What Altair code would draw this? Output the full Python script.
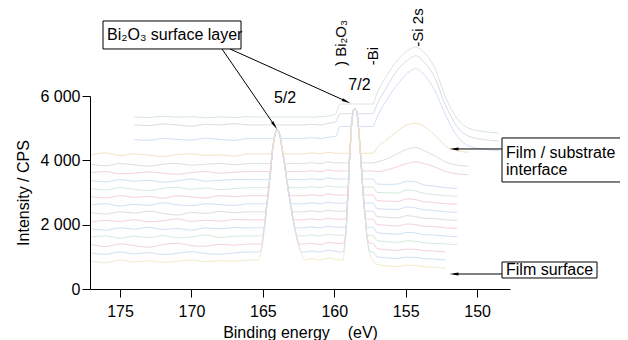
import altair as alt
import pandas as pd

# ---------------- data ----------------
# background (off-peak) points of every spectrum, bottom (film surface) to top (interface)
base_energy = [177.0, 176.0, 175.0, 174.0, 173.0, 172.0, 171.0, 170.0, 169.0, 168.0, 167.0, 166.0,
               161.6, 161.0, 160.4, 159.9,
               157.0, 156.3, 155.6, 154.9, 154.3, 153.7, 153.0, 152.2, 151.4, 150.6, 149.6, 148.5]
N = None
base_00 = [870, 820, 900, 840, 880, 830, 860, 900, 850, 880, 860, 900, 940, 900, 960, 920,
           760, 720, 700, 740, 730, 690, 680, 650, N, N, N, N]
base_01 = [1120, 1080, 1150, 1090, 1130, 1070, 1110, 1160, 1100, 1080, 1120, 1150, 1180, 1150, 1210, 1170,
           1000, 970, 950, 990, 980, 940, 930, 900, N, N, N, N]
base_02 = [1380, 1320, 1400, 1350, 1300, 1380, 1420, 1350, 1330, 1390, 1360, 1400, 1420, 1380, 1450, 1420,
           1260, 1220, 1200, 1240, 1230, 1190, 1180, 1150, N, N, N, N]
base_03 = [1620, 1650, 1580, 1640, 1600, 1660, 1590, 1620, 1680, 1600, 1640, 1650, 1680, 1650, 1700, 1670,
           1500, 1470, 1450, 1500, 1480, 1440, 1420, 1400, 1380, N, N, N]
base_04 = [1870, 1830, 1900, 1860, 1920, 1850, 1880, 1830, 1900, 1870, 1910, 1900, 1930, 1900, 1950, 1920,
           1750, 1720, 1700, 1760, 1740, 1690, 1680, 1650, 1620, N, N, N]
base_05 = [2080, 2130, 2100, 2150, 2090, 2120, 2180, 2100, 2140, 2110, 2160, 2150, 2180, 2150, 2200, 2170,
           2000, 1980, 1960, 2020, 2000, 1950, 1940, 1900, 1880, N, N, N]
base_06 = [2370, 2330, 2400, 2360, 2420, 2350, 2300, 2380, 2350, 2410, 2370, 2400, 2430, 2400, 2450, 2420,
           2250, 2230, 2210, 2280, 2250, 2200, 2190, 2150, 2130, N, N, N]
base_07 = [2620, 2650, 2580, 2630, 2600, 2680, 2620, 2590, 2650, 2620, 2600, 2650, 2680, 2650, 2700, 2670,
           2500, 2480, 2470, 2550, 2520, 2460, 2440, 2400, 2380, N, N, N]
base_08 = [2870, 2830, 2900, 2850, 2880, 2820, 2900, 2860, 2830, 2900, 2870, 2900, 2930, 2900, 2950, 2920,
           2750, 2730, 2720, 2800, 2780, 2710, 2690, 2650, 2640, N, N, N]
base_09 = [3120, 3080, 3150, 3100, 3060, 3130, 3160, 3100, 3140, 3090, 3120, 3150, 3180, 3150, 3200, 3170,
           3000, 2990, 2980, 3080, 3050, 2970, 2940, 2900, 2880, N, N, N]
base_10 = [3370, 3330, 3400, 3350, 3380, 3320, 3360, 3420, 3350, 3380, 3400, 3400, 3430, 3400, 3450, 3420,
           3260, 3250, 3260, 3350, 3330, 3230, 3200, 3150, 3120, N, N, N]
base_11 = [3620, 3650, 3580, 3600, 3640, 3600, 3570, 3620, 3650, 3600, 3630, 3650, 3680, 3650, 3700, 3670,
           3650, 3700, 3800, 3900, 3950, 3900, 3800, 3650, 3580, 3550, N, N]
base_12 = [3870, 3830, 3900, 3860, 3820, 3880, 3900, 3850, 3880, 3900, 3860, 3900, 3930, 3900, 3950, 3920,
           3950, 4050, 4200, 4350, 4400, 4300, 4150, 3950, 3850, 3820, N, N]
base_13 = [4170, 4230, 4150, 4200, 4160, 4120, 4180, 4200, 4150, 4170, 4130, 4200, 4230, 4200, 4250, 4220,
           4400, 4650, 4900, 5100, 5150, 5050, 4800, 4450, 4300, 4250, N, N]
base_14 = [N, N, N, 4650, 4620, 4680, 4650, 4630, 4690, 4650, 4620, 4680, 4700, 4680, 4720, 4750,
           5350, 5900, 6350, 6700, 6850, 6650, 6200, 5400, 4750, 4450, 4350, 4300]
base_15 = [N, N, N, 5100, 5080, 5130, 5100, 5060, 5120, 5100, 5140, 5100, 5120, 5100, 5150, 5200,
           5750, 6300, 6800, 7100, 7250, 7050, 6600, 5700, 5050, 4750, 4650, 4600]
base_16 = [N, N, N, 5350, 5330, 5370, 5340, 5360, 5320, 5350, 5330, 5360, 5340, 5360, 5380, 5450,
           6100, 6650, 7100, 7400, 7520, 7350, 6900, 5950, 5300, 5000, 4900, 4850]

# background level of each spectrum under the Bi 4f 5/2 and Bi 4f 7/2 peaks
level_52 = [900, 1150, 1400, 1650, 1900, 2150, 2400, 2650, 2900, 3150, 3400, 3650, 3900, 4200, 4680, 5100, 5350]
level_72 = [900, 1150, 1420, 1670, 1920, 2170, 2420, 2670, 2920, 3170, 3420, 3670, 3920, 4220, 5050, 5450, 5750]

# common outline of the two Bi 4f peaks
peak52_energy = [165.6, 165.3, 165.1, 164.9, 164.7, 164.5, 164.3, 164.15, 164.0, 163.85, 163.7, 163.5,
                 163.3, 163.1, 162.9, 162.7, 162.5, 162.3, 162.1]
peak52_cps = [300, 700, 1250, 1900, 2700, 3500, 4400, 4800, 4950, 4850, 4500, 3950,
              3300, 2750, 2200, 1750, 1400, 1100, 800]
peak72_energy = [159.6, 159.4, 159.2, 159.05, 158.9, 158.75, 158.6, 158.45, 158.3, 158.15, 158.0,
                 157.85, 157.7, 157.5, 157.3]
peak72_cps = [500, 900, 1700, 2900, 4300, 5300, 5600, 5550, 5000, 4100, 3100, 2300, 1600, 1050, 700]

backgrounds = [base_00, base_01, base_02, base_03, base_04, base_05, base_06, base_07, base_08,
               base_09, base_10, base_11, base_12, base_13, base_14, base_15, base_16]
line_colors = ["#f3ecca", "#d0e1f4", "#f4d2da", "#d5ead7", "#d0e1f4", "#f4d2da", "#dedee2",
               "#d0e1f4", "#f4d2da", "#d5ead7", "#d0e1f4", "#f4d2da", "#dedee2", "#f3e2c4",
               "#d0e1f4", "#dadce2", "#d7e6de"]

x_ticks = [175, 170, 165, 160, 155, 150]
y_ticks = [0, 1000, 2000, 3000, 4000, 5000, 6000]

# annotation texts (positions in energy / CPS units)
peak_labels = ["5/2", "7/2"]
peak_label_x = [163.45, 158.24]
peak_label_y = [5938, 6342]

vert_labels = [") Bi\u2082O\u2083", "-Bi", "-Si 2s"]
vert_label_x = [159.53, 157.29, 154.14]
vert_label_y = [7648, 7244, 8130]

box_texts = ["Bi\u2082O\u2083 surface layer", "Film / substrate", "interface", "Film surface"]
box_text_x = [175.91, 147.98, 147.98, 147.98]
box_text_y = [7897, 4228, 3700, 591]

boxes_x = [176.19, 148.26, 148.26]
boxes_x2 = [166.53, 139.86, 141.61]
boxes_y = [8332, 4695, 839]
boxes_y2 = [7462, 3327, 342]

arrows_x = [167.86, 167.30, 148.26, 148.26]
arrows_y = [7462, 7462, 4353, 466]
arrows_x2 = [164.17, 159.15, 151.62, 151.62]
arrows_y2 = [5077, 5833, 4353, 466]
arrow_angles = [145.5, 114.2, 270, 270]

# ---------------- build tables ----------------
rows = []
for k, (vals, col) in enumerate(zip(backgrounds, line_colors)):
    for e, v in zip(base_energy, vals):
        if v is not None:
            rows.append({"spectrum": k, "energy": e, "cps": v, "color": col})
    for e, v in zip(peak52_energy, peak52_cps):
        rows.append({"spectrum": k, "energy": e, "cps": max(v, level_52[k]), "color": col})
    for e, v in zip(peak72_energy, peak72_cps):
        rows.append({"spectrum": k, "energy": e, "cps": max(v, level_72[k]), "color": col})
df = pd.DataFrame(rows)

peaks_df = pd.DataFrame({"t": peak_labels, "x": peak_label_x, "y": peak_label_y})
vert_df = pd.DataFrame({"t": vert_labels, "x": vert_label_x, "y": vert_label_y})
boxt_df = pd.DataFrame({"t": box_texts, "x": box_text_x, "y": box_text_y})
boxes_df = pd.DataFrame({"x": boxes_x, "x2": boxes_x2, "y": boxes_y, "y2": boxes_y2})
arrows_df = pd.DataFrame({"x": arrows_x, "y": arrows_y, "x2": arrows_x2, "y2": arrows_y2,
                          "a": arrow_angles})

FONT = "Liberation Sans"
xscale = alt.Scale(domain=[147.7, 177.1], reverse=True, nice=False, zero=False)
yscale = alt.Scale(domain=[0, 6000], nice=False)

xaxis = alt.Axis(values=x_ticks, title="Binding energy\u00a0\u00a0\u00a0\u00a0(eV)", grid=False,
                 tickSize=8, labelPadding=6, titlePadding=5, labelFontSize=16, titleFontSize=16,
                 labelFont=FONT, titleFont=FONT, titleFontWeight="normal", labelColor="black",
                 titleColor="black", domainColor="black", tickColor="black", labelFlush=False)
yaxis = alt.Axis(values=y_ticks, title="Intensity / CPS", grid=False, tickSize=8, labelPadding=2,
                 titlePadding=8, labelFontSize=16, titleFontSize=16, labelFont=FONT,
                 titleFont=FONT, titleFontWeight="normal", labelColor="black", titleColor="black",
                 domainColor="black", tickColor="black",
                 labelExpr="datum.value == 0 ? '0' : (datum.value / 1000) + ' 000'")

lines = alt.Chart(df).mark_line(strokeWidth=1, interpolate="monotone").encode(
    x=alt.X("energy:Q", scale=xscale, axis=xaxis),
    y=alt.Y("cps:Q", scale=yscale, axis=yaxis),
    color=alt.Color("color:N", scale=None),
    detail="spectrum:N",
    order=alt.Order("energy:Q", sort="descending"),
)

rects = alt.Chart(boxes_df).mark_rect(fill="white", stroke="black", strokeWidth=1).encode(
    x=alt.X("x:Q", scale=xscale), x2="x2:Q",
    y=alt.Y("y:Q", scale=yscale), y2="y2:Q")

arrow_lines = alt.Chart(arrows_df).mark_rule(color="black", strokeWidth=1).encode(
    x=alt.X("x:Q", scale=xscale), x2="x2:Q",
    y=alt.Y("y:Q", scale=yscale), y2="y2:Q")

arrow_heads = alt.Chart(arrows_df).mark_point(
    shape="M0,-1L0.33,1L-0.33,1Z", filled=True, color="black", size=81, opacity=1,
    strokeWidth=0).encode(
    x=alt.X("x2:Q", scale=xscale), y=alt.Y("y2:Q", scale=yscale),
    angle=alt.Angle("a:Q", scale=None))

peak_text = alt.Chart(peaks_df).mark_text(font=FONT, fontSize=16, color="black",
                                          align="center", baseline="middle").encode(
    x=alt.X("x:Q", scale=xscale), y=alt.Y("y:Q", scale=yscale), text="t:N")

vert_text = alt.Chart(vert_df).mark_text(font=FONT, fontSize=15, color="black", angle=270,
                                         align="center", baseline="middle").encode(
    x=alt.X("x:Q", scale=xscale), y=alt.Y("y:Q", scale=yscale), text="t:N")

box_text = alt.Chart(boxt_df).mark_text(font=FONT, fontSize=16, color="black",
                                        align="left", baseline="middle").encode(
    x=alt.X("x:Q", scale=xscale), y=alt.Y("y:Q", scale=yscale), text="t:N")

chart = alt.layer(lines, arrow_lines, arrow_heads, rects, peak_text, vert_text, box_text).properties(
    width=420, height=193,
    autosize=alt.AutoSizeParams(type="none"),
    padding={"left": 82, "top": 88, "right": 110, "bottom": 51},
).configure(background="white").configure_view(stroke=None)

chart.save("out.html", embed_options={"renderer": "svg", "actions": False})
